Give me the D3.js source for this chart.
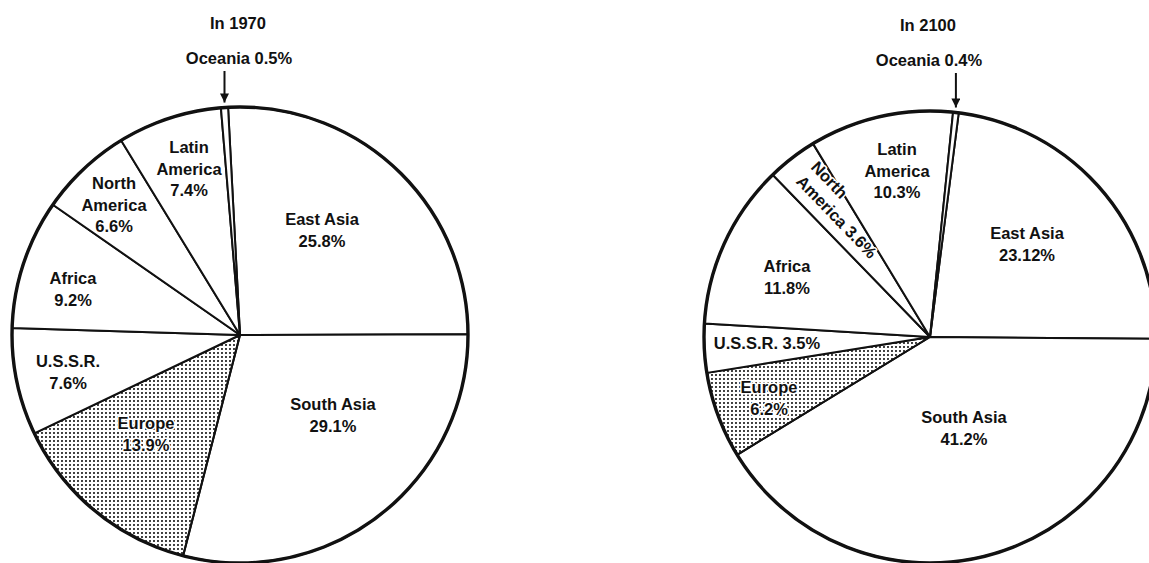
<!DOCTYPE html>
<html>
<head>
<meta charset="utf-8">
<script src="https://cdn.jsdelivr.net/npm/d3@7"></script>
<style>
  html, body { margin: 0; padding: 0; background: #fff; }
  svg { display: block; }
  text { font-family: "Liberation Sans", Arial, sans-serif; font-weight: bold; font-size: 16.5px; fill: #111; }
</style>
</head>
<body>
<div id="vis-holder"></div>
<script>
// Canvas size
const width = 1149;
const height = 563;

// Data: world population share by region (percent)
const regions = ["East Asia", "South Asia", "Europe", "U.S.S.R.", "Africa",
  "North America", "Latin America", "Oceania"];
const share1970 = [25.8, 29.1, 13.9, 7.6, 9.2, 6.6, 7.4, 0.5];
const share2100 = [23.12, 41.2, 6.2, 3.5, 11.8, 3.6, 10.3, 0.4];
const titles = ["In 1970", "In 2100"];

// Pie placement (layout only)
const pies = [
  { title: titles[0], values: share1970, cx: 240, cy: 335, r: 228, start: -3,
    // label offsets from centre: first line centre, and how lines are split
    labels: {
      "East Asia":     { dx: 82,   dy: -116, mode: "nameValue" },
      "South Asia":    { dx: 93,   dy: 69,   mode: "nameValue" },
      "Europe":        { dx: -94,  dy: 88,   mode: "nameValue" },
      "U.S.S.R.":      { dx: -172, dy: 26,   mode: "nameValue" },
      "Africa":        { dx: -167, dy: -57,  mode: "nameValue" },
      "North America": { dx: -126, dy: -152, mode: "stack" },
      "Latin America": { dx: -51,  dy: -188, mode: "stack" }
    } },
  { title: titles[1], values: share2100, cx: 930, cy: 337, r: 226, start: 7.3,
    labels: {
      "East Asia":     { dx: 97,   dy: -104, mode: "nameValue" },
      "South Asia":    { dx: 34,   dy: 80,   mode: "nameValue" },
      "Europe":        { dx: -161, dy: 50,   mode: "nameValue" },
      "U.S.S.R.":      { dx: -163, dy: 6,    mode: "inline" },
      "Africa":        { dx: -143, dy: -71,  mode: "nameValue" },
      "North America": { dx: -120, dy: -169, mode: "rotated", angle: 46 },
      "Latin America": { dx: -33,  dy: -188, mode: "stack" }
    } }
];

const lineH = 21.5;

const svg = d3.select("#vis-holder")
  .append("svg")
  .attr("width", width)
  .attr("height", height)
  .attr("viewBox", [0, 0, width, height]);

// Dotted screen used for Europe
const defs = svg.append("defs");
defs.append("pattern")
  .attr("id", "dots")
  .attr("patternUnits", "userSpaceOnUse")
  .attr("width", 4)
  .attr("height", 4)
  .append("circle")
  .attr("cx", 2)
  .attr("cy", 2)
  .attr("r", 1.05)
  .attr("fill", "#111");

defs.append("marker")
  .attr("id", "arrow")
  .attr("viewBox", "0 0 10 10")
  .attr("refX", 10)
  .attr("refY", 5)
  .attr("markerUnits", "userSpaceOnUse")
  .attr("markerWidth", 12)
  .attr("markerHeight", 9)
  .attr("orient", "auto")
  .append("path")
  .attr("d", "M0,0 L10,5 L0,10 Z")
  .attr("fill", "#111");

const fmt = (v) => `${v}%`;

pies.forEach((p) => {
  const g = svg.append("g").attr("transform", `translate(${p.cx},${p.cy})`);
  const data = regions.map((name, i) => ({ name: name, value: p.values[i] }));

  const start = p.start * Math.PI / 180;
  const pie = d3.pie()
    .sort(null)
    .value((d) => d.value)
    .startAngle(start)
    .endAngle(start + 2 * Math.PI);

  const arc = d3.arc().innerRadius(0).outerRadius(p.r);
  const arcs = pie(data);

  // Slices
  g.selectAll("path.slice")
    .data(arcs)
    .enter()
    .append("path")
    .attr("class", "slice")
    .attr("d", arc)
    .attr("fill", (d) => d.data.name === "Europe" ? "url(#dots)" : "#fff")
    .attr("stroke", "#111")
    .attr("stroke-width", 2)
    .attr("stroke-linejoin", "round");

  // Heavy outer rim
  g.append("circle")
    .attr("r", p.r)
    .attr("fill", "none")
    .attr("stroke", "#111")
    .attr("stroke-width", 3.4);

  // Labels inside the pie
  arcs.forEach((a) => {
    const lab = p.labels[a.data.name];
    if (!lab) return;
    const words = a.data.name.split(" ");
    const val = fmt(a.data.value);
    let lines;
    if (lab.mode === "stack") lines = words.concat([val]);
    else if (lab.mode === "inline") lines = [a.data.name + " " + val];
    else if (lab.mode === "rotated") lines = [words[0], words.slice(1).join(" ") + " " + val];
    else lines = [a.data.name, val];

    const t = g.append("text")
      .attr("stroke", "#fff")
      .attr("stroke-width", 3)
      .attr("paint-order", "stroke")
      .attr("stroke-linejoin", "round");

    if (lab.mode === "rotated") {
      t.attr("transform", `translate(${lab.dx},${lab.dy}) rotate(${lab.angle})`)
        .attr("text-anchor", "start");
      lines.forEach((s, i) => {
        t.append("tspan").attr("x", 0).attr("y", i * 20.5).text(s);
      });
    } else {
      t.attr("text-anchor", "middle");
      lines.forEach((s, i) => {
        t.append("tspan").attr("x", lab.dx).attr("y", lab.dy + 6 + i * lineH).text(s);
      });
    }
  });

  // Oceania: label above the pie with arrow pointing to the sliver
  const oc = arcs.find((d) => d.data.name === "Oceania");
  const mid = (oc.startAngle + oc.endAngle) / 2;
  const ax = p.r * Math.sin(mid);
  const ay = -p.r * Math.cos(mid);

  g.append("text")
    .attr("x", -1)
    .attr("y", -271)
    .attr("text-anchor", "middle")
    .text(`${oc.data.name} ${fmt(oc.data.value)}`);

  g.append("line")
    .attr("x1", ax)
    .attr("y1", -264)
    .attr("x2", ax)
    .attr("y2", ay - 5)
    .attr("stroke", "#111")
    .attr("stroke-width", 2)
    .attr("marker-end", "url(#arrow)");

  // Title
  g.append("text")
    .attr("x", -2)
    .attr("y", -306)
    .attr("text-anchor", "middle")
    .text(p.title);
});
</script>
</body>
</html>
